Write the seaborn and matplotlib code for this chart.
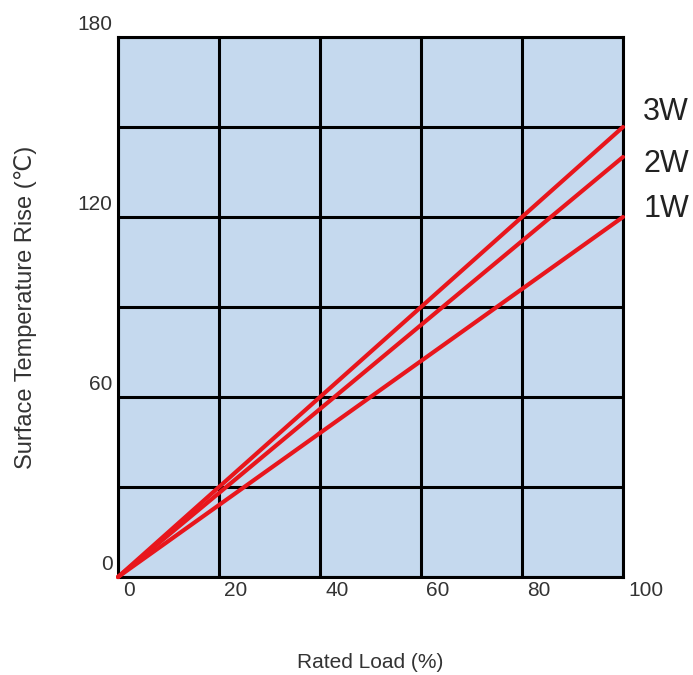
import pandas as pd
import matplotlib
matplotlib.use("Agg")
import matplotlib.pyplot as plt
import matplotlib.transforms as mtransforms
import seaborn as sns

# rated load (%) and surface temperature rise (deg C) for each power rating
load = [0, 100]
rise_1w = [0, 120]
rise_2w = [0, 140]
rise_3w = [0, 150]
ratings = ["1W", "2W", "3W"]
label_y = {"3W": 155, "2W": 137.5, "1W": 122.5}

x_ticks = [0, 20, 40, 60, 80, 100]
y_ticks = [0, 30, 60, 90, 120, 150, 180]
y_tick_labels = ["0", "", "60", "", "120", "", "180"]

df = pd.DataFrame({
    "load": load * 3,
    "rise": rise_1w + rise_2w + rise_3w,
    "rating": [r for r in ratings for _ in load],
})

sns.set_style("white")
plt.rcParams["font.family"] = ["Liberation Sans", "DejaVu Sans"]

fig = plt.figure(figsize=(6.93, 6.75), dpi=100)
ax = fig.add_axes([0.1703, 0.1452, 0.7287, 0.8])
ax.set_facecolor("#C5D9EE")

sns.lineplot(data=df, x="load", y="rise", hue="rating",
             palette=["#E8161C"] * 3, linewidth=3, legend=False,
             ax=ax, zorder=3, clip_on=False, solid_capstyle="round")

ax.set_xlim(0, 100)
ax.set_ylim(0, 180)
ax.set_xticks(x_ticks)
ax.set_xticklabels([str(v) for v in x_ticks])
ax.set_yticks(y_ticks)
ax.set_yticklabels(y_tick_labels)
ax.grid(True, color="black", linewidth=2.2, zorder=1)
ax.set_axisbelow(True)
for s in ax.spines.values():
    s.set_color("black")
    s.set_linewidth(2.2)

ax.tick_params(axis="both", length=0, labelsize=15, labelcolor="#333333")
ax.tick_params(axis="x", pad=3)
ax.tick_params(axis="y", pad=4)

dx = mtransforms.ScaledTranslation(5 / 100, 0, fig.dpi_scale_trans)
for lab in ax.get_xticklabels():
    lab.set_ha("left")
    lab.set_transform(lab.get_transform() + dx)
dy = mtransforms.ScaledTranslation(0, 3 / 100, fig.dpi_scale_trans)
for lab in ax.get_yticklabels():
    lab.set_va("bottom")
    lab.set_transform(lab.get_transform() + dy)

for r in ratings:
    ax.text(104, label_y[r], r, fontsize=22, color="#222222",
            ha="left", va="center", clip_on=False)

ax.set_xlabel("Rated Load (%)", fontsize=15, color="#333333")
ax.set_ylabel("Surface Temperature Rise (℃)", fontsize=17, color="#333333")
ax.xaxis.set_label_coords(0.5, -0.14)
ax.yaxis.set_label_coords(-0.16, 0.5)

fig.savefig("out.png", dpi=100)
